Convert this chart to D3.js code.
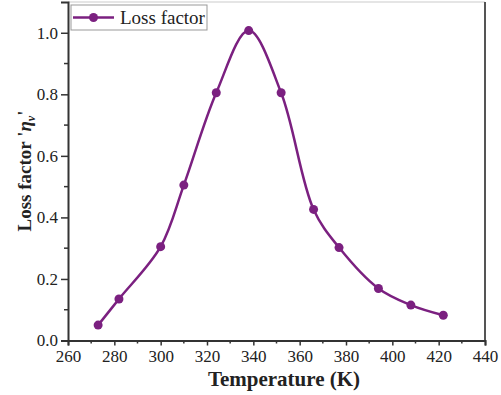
<!DOCTYPE html>
<html lang="en">
<head>
<meta charset="utf-8">
<title>Loss factor</title>
<style>
  body, html { margin:0; padding:0; background:#fff; }
  svg { display:block; }
  text { font-family:"Liberation Serif","Times New Roman",serif; fill:#222; }
</style>
<script src="https://cdn.jsdelivr.net/npm/d3@7/dist/d3.min.js"></script>
</head>
<body>
<div id="chart"></div>
<script>
// temperature (K) and loss factor values
var temperature = [273, 282, 300, 310, 324, 338, 352, 366, 377, 394, 408, 422];
var lossFactor  = [0.05, 0.135, 0.305, 0.505, 0.805, 1.007, 0.805, 0.426, 0.302, 0.169, 0.115, 0.082];
var xTicks = [260, 280, 300, 320, 340, 360, 380, 400, 420, 440];
var yTicks = [0.0, 0.2, 0.4, 0.6, 0.8, 1.0];
var seriesName = "Loss factor";

var W = 501, H = 395;
var margin = { left:68, right:16, top:2, bottom:54 };
var color = "#7b2080";

var svg = d3.select("#chart").append("svg").attr("width", W).attr("height", H);

var x = d3.scaleLinear().domain([260, 440]).range([margin.left, W - margin.right]);
var y = d3.scaleLinear().domain([0, 1.1]).range([H - margin.bottom - 0.5, margin.top]);

// frame: top (light) and right
svg.append("line")
  .attr("x1", x(260)).attr("x2", x(440)).attr("y1", y(1.1)).attr("y2", y(1.1))
  .attr("stroke", "#ddd").attr("stroke-width", 1.5);
svg.append("line")
  .attr("x1", x(440)).attr("x2", x(440)).attr("y1", y(1.1)).attr("y2", y(0))
  .attr("stroke", "#555").attr("stroke-width", 2);

// minor ticks
var minorX = d3.range(270, 440, 20);
var minorY = d3.range(0.1, 1.1, 0.2);

function styleAxis(g) {
  g.attr("font-family", null).attr("font-size", null);
  g.select(".domain").attr("stroke", "#333").attr("stroke-width", 2);
  g.selectAll(".tick line").attr("stroke", "#333").attr("stroke-width", 1.5);
  g.selectAll(".tick text")
    .attr("font-family", "Liberation Serif, serif")
    .attr("font-size", 17)
    .attr("fill", "#222");
}

var gx = svg.append("g").attr("transform", "translate(0," + y(0) + ")");
gx.selectAll(".minor").data(minorX).enter().append("line")
  .attr("x1", function(d){ return x(d); }).attr("x2", function(d){ return x(d); })
  .attr("y1", 0).attr("y2", 3).attr("stroke", "#333").attr("stroke-width", 1.5);
gx.call(d3.axisBottom(x).tickValues(xTicks).tickSize(5).tickPadding(4).tickFormat(d3.format("d")));
styleAxis(gx);

var gy = svg.append("g").attr("transform", "translate(" + x(260) + ",0)");
gy.selectAll(".minor").data(minorY).enter().append("line")
  .attr("y1", function(d){ return y(d); }).attr("y2", function(d){ return y(d); })
  .attr("x1", 0).attr("x2", -4).attr("stroke", "#333").attr("stroke-width", 1.5);
gy.call(d3.axisLeft(y).tickValues(yTicks).tickSize(7).tickPadding(3).tickFormat(d3.format(".1f")));
styleAxis(gy);

// axis titles
svg.append("text")
  .attr("x", 284).attr("y", 386)
  .attr("text-anchor", "middle")
  .attr("font-size", 21).attr("font-weight", "bold")
  .text("Temperature (K)");

var yl = svg.append("text")
  .attr("transform", "translate(31,171) rotate(-90)")
  .attr("text-anchor", "middle")
  .attr("font-size", 19).attr("font-weight", "bold");
yl.append("tspan").text("Loss factor '");
yl.append("tspan").attr("font-style", "italic").text("η");
yl.append("tspan").attr("font-style", "italic").attr("font-size", 12).attr("dy", 4).text("v");
yl.append("tspan").attr("dy", -4).text("'");

// the series
var pts = temperature.map(function(t, i){ return [t, lossFactor[i]]; });
var line = d3.line()
  .x(function(d){ return x(d[0]); })
  .y(function(d){ return y(d[1]); })
  .curve(d3.curveCatmullRom.alpha(0.5));

svg.append("path").datum(pts)
  .attr("d", line).attr("fill", "none")
  .attr("stroke", color).attr("stroke-width", 2.5);

svg.selectAll(".pt").data(pts).enter().append("circle")
  .attr("cx", function(d){ return x(d[0]); })
  .attr("cy", function(d){ return y(d[1]); })
  .attr("r", 4.5).attr("fill", color);

// legend
var lg = svg.append("g");
lg.append("rect").attr("x", 71).attr("y", 5).attr("width", 136).attr("height", 25)
  .attr("fill", "#fff").attr("stroke", "#999").attr("stroke-width", 1);
lg.append("line").attr("x1", 73).attr("x2", 114).attr("y1", 17.5).attr("y2", 17.5)
  .attr("stroke", color).attr("stroke-width", 2.5);
lg.append("circle").attr("cx", 93.5).attr("cy", 17.5).attr("r", 4.5).attr("fill", color);
lg.append("text").attr("x", 120).attr("y", 24).attr("font-size", 19).text(seriesName);
</script>
</body>
</html>
